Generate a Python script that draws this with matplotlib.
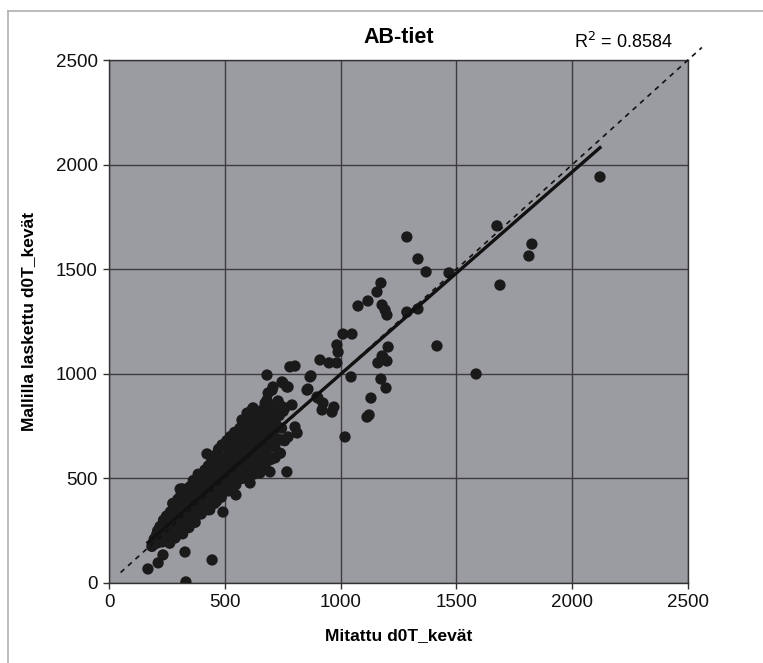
import numpy as np
import matplotlib
matplotlib.use("Agg")
import matplotlib.pyplot as plt
from matplotlib.lines import Line2D

plt.rcParams['font.family'] = ['Liberation Sans', 'DejaVu Sans']

cluster_x = [185, 195, 200, 205, 210, 215, 220, 225, 230, 235, 240, 245, 250, 248,
             255, 258, 262, 265, 268, 270, 275, 278, 282, 285, 288, 290, 294, 297, 299,
             302, 305, 308, 310, 313, 316, 318, 321, 325, 328, 330, 333, 336, 340, 343, 346, 349,
             352, 355, 358, 361, 364, 367, 370, 373, 376, 379, 382, 385, 388, 391, 394, 397, 399,
             402, 405, 408, 411, 414, 417, 420, 423, 426, 429, 432, 435, 438, 441, 444, 447, 449,
             452, 455, 458, 461, 464, 467, 470, 473, 476, 479, 482, 485, 488, 491, 494, 497, 499,
             503, 506, 509, 512, 515, 518, 521, 524, 527, 530, 533, 536, 539, 542, 545, 548, 549,
             553, 556, 559, 562, 565, 568, 571, 574, 577, 580, 583, 586, 589, 592, 595, 598,
             603, 606, 609, 612, 615, 618, 621, 624, 627, 630, 633, 636, 639, 642, 645, 648,
             653, 656, 659, 662, 665, 668, 671, 674, 677, 680, 683, 686, 689, 692, 695, 698,
             703, 708, 712, 716, 720, 725, 730, 735, 740, 745, 752, 758,
             262, 285, 318, 345, 372, 398, 425, 455, 485, 515, 540, 575, 605, 640, 672]
cluster_y = [175, 210, 190, 230, 250, 200, 270, 220, 240, 300, 260, 210, 280, 320,
             240, 300, 260, 340, 215, 290, 380, 250, 320, 270, 350, 300, 230, 400, 330,
             280, 360, 250, 420, 310, 450, 340, 290, 390, 260, 370, 430, 310, 350, 400, 280, 460,
             330, 420, 380, 300, 490, 350, 440, 400, 320, 470, 370, 520, 410, 340, 450, 380, 500,
             430, 360, 470, 400, 540, 450, 380, 500, 420, 560, 470, 350, 510, 440, 590, 480, 400,
             520, 450, 610, 490, 390, 550, 470, 640, 520, 430, 580, 500, 660, 540, 460, 600, 520,
             560, 480, 680, 610, 530, 640, 450, 700, 580, 500, 660, 610, 540, 720, 590, 470, 650,
             560, 690, 620, 510, 740, 600, 660, 540, 700, 630, 580, 760, 650, 520, 710, 610,
             680, 560, 740, 640, 790, 600, 700, 520, 660, 760, 620, 720, 580, 800, 680, 640,
             730, 600, 780, 690, 830, 650, 740, 560, 700, 800, 640, 760, 710, 850, 670, 590,
             780, 720, 830, 650, 760, 690, 870, 800, 620, 740, 820, 680,
             190, 215, 235, 265, 290, 330, 350, 380, 410, 440, 480, 500, 540, 560, 600]

spread_x = [168, 212, 233, 190, 229, 207, 242, 272, 294, 307, 328, 332, 445, 492, 548, 609,
            423, 458, 509, 522, 566, 574, 596, 617, 622, 630, 652, 665, 682, 695, 708, 717,
            747, 730, 760, 738, 768, 773, 790, 803, 812, 751, 773, 708, 687, 674, 682, 704,
            781, 803, 747, 768, 855, 868, 872, 859, 898, 902, 924, 920, 963, 971, 1019, 1114,
            1123, 1131, 911, 950, 984, 989, 984, 1010, 1049, 1045, 1075, 1118, 1157, 1174,
            1179, 1192, 1200, 1179, 1183, 1205, 1161, 1200, 1174, 1196, 1286, 1334, 1286,
            1334, 1369, 1416, 1468, 1585, 1675, 1688, 1813, 1826, 2120]
spread_y = [67, 96, 134, 182, 196, 191, 206, 220, 244, 449, 148, 5, 110, 339, 421, 478,
            617, 588, 679, 598, 612, 779, 812, 827, 837, 622, 526, 602, 994, 531, 598, 598,
            684, 827, 837, 851, 531, 698, 851, 746, 717, 956, 937, 937, 908, 860, 874, 922,
            1033, 1037, 961, 937, 922, 985, 990, 927, 889, 884, 860, 827, 817, 841, 698, 793,
            803, 884, 1066, 1052, 1052, 1104, 1138, 1190, 1190, 985, 1324, 1348, 1391, 1434,
            1329, 1305, 1281, 1085, 1080, 1128, 1052, 1061, 975, 932, 1654, 1549, 1295,
            1310, 1487, 1133, 1482, 999, 1707, 1424, 1563, 1620, 1941]

x_vals = np.array(cluster_x + spread_x)
y_vals = np.array(cluster_y + spread_y)

# Excel linear trendline as printed on the chart
trend_slope = 0.967
trend_intercept = 31
r_squared = "0.8584"

title = "AB-tiet"
x_label = "Mitattu d0T_kevät"
y_label = "Mallilla laskettu d0T_kevät"
ticks = [0, 500, 1000, 1500, 2000, 2500]
one_to_one = [50, 2560]

fig = plt.figure(figsize=(7.63, 6.63), dpi=100)
ax = fig.add_axes([0.1429, 0.1207, 0.7588, 0.7888])
ax.set_facecolor('#9b9ba2')

ax.set_xlim(0, 2500)
ax.set_ylim(0, 2500)
ax.set_xticks(ticks)
ax.set_yticks(ticks)
ax.grid(True, color='#3c3c3c', linewidth=1.0)
ax.set_axisbelow(True)

ax.scatter(x_vals, y_vals, s=66, color='#1a1a1a', edgecolors='none', zorder=3)

tx = np.array([x_vals.min(), x_vals.max()])
ax.plot(tx, trend_slope * tx + trend_intercept, color='#111111', linewidth=2.4, zorder=4)
ax.plot(one_to_one, one_to_one, color='#111111', linewidth=1.2,
        linestyle=(0, (3, 3)), zorder=4, clip_on=False)

for side in ['left', 'bottom', 'top', 'right']:
    ax.spines[side].set_color('#333333')
    ax.spines[side].set_linewidth(1.0)

ax.tick_params(direction='out', length=4, width=1, color='#333333',
               labelsize=13.5, labelcolor='#111111', pad=4)

ax.set_xlabel(x_label, fontsize=12.5, fontweight='bold', labelpad=12)
ax.set_ylabel(y_label, fontsize=12.5, fontweight='bold', labelpad=14)
ax.set_title(title, fontsize=15.5, fontweight='bold', pad=12)

fig.text(0.8175, 0.937, "R$^2$ = " + r_squared, fontsize=13, ha='center', va='center')

# outer chart border
fig.add_artist(Line2D([0.010, 1.0], [0.983, 0.983], color='#b0b0b0', linewidth=1.2))
fig.add_artist(Line2D([0.010, 0.010], [0.0, 0.983], color='#b0b0b0', linewidth=1.2))

fig.savefig('out.png', dpi=100)
